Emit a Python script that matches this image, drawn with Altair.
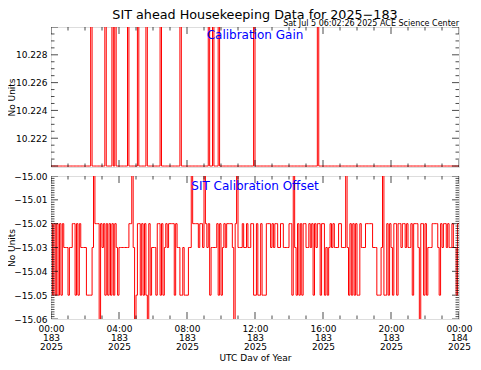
import json
import altair as alt
import pandas as pd

# ---------------- text ----------------
TITLE = "SIT ahead Housekeeping Data for 2025\u2212183"
STAMP = "Sat Jul  5 06:02:26 2025 ACE Science Center"
PANEL1_LABEL = "Calibration Gain"
PANEL2_LABEL = "SIT Calibration Offset"
Y_TITLE = "No Units"
X_TITLE = "UTC Day of Year"

# ---------------- x axis ticks / labels ----------------
X_TICK_HOURS = [0, 4, 8, 12, 16, 20, 24]
X_TICK_TIME = ["00:00", "04:00", "08:00", "12:00", "16:00", "20:00", "00:00"]
X_TICK_DOY = ["183", "183", "183", "183", "183", "183", "184"]
X_TICK_YEAR = ["2025", "2025", "2025", "2025", "2025", "2025", "2025"]

# ---------------- data (5-minute samples, minutes of day) ----------------
SAMPLE_MINUTES = list(range(0, 1441, 5))

GAIN_BASE = 10.2200
GAIN_SPIKE = 10.2310
GAIN_SPIKE_MIN = [140, 190, 215, 225, 270, 305, 335, 385, 455, 555, 570, 590, 715, 940]

OFF_BASE = -15.03
OFF_UP = -15.02
OFF_DOWN = -15.05
OFF_HIGH = -14.99
OFF_LOW = -15.07
OFF_UP_MIN = [0, 10, 20, 30, 40, 75, 80, 90, 100, 155, 160, 165, 175, 185, 195, 205,
              215, 225, 275, 280, 305, 310, 320, 330, 345, 375, 380, 390, 405, 415,
              420, 425, 430, 440, 500, 505, 510, 515, 525, 530, 545, 555, 585, 595,
              610, 620, 625, 630, 635, 650, 675, 690, 705, 710, 725, 740, 760, 765,
              770, 780, 790, 795, 810, 815, 840, 845, 870, 880, 890, 895, 910, 920,
              930, 940, 945, 955, 960, 985, 995, 1015, 1020, 1055, 1065, 1075, 1090,
              1110, 1115, 1120, 1125, 1130, 1185, 1195, 1210, 1215, 1225, 1230, 1240,
              1245, 1255, 1270, 1280, 1285, 1290, 1305, 1310, 1320, 1345, 1350, 1355,
              1360, 1375, 1385, 1390, 1400, 1415, 1435, 1440]
OFF_DOWN_MIN = [5, 15, 25, 35, 60, 85, 95, 125, 130, 135, 140, 190, 200, 210, 220, 235,
                300, 315, 325, 335, 350, 370, 385, 395, 435, 455, 460, 470, 475, 480,
                560, 590, 600, 715, 720, 730, 735, 745, 750, 755, 850, 865, 875, 885,
                925, 950, 965, 975, 1050, 1060, 1070, 1080, 1085, 1150, 1155, 1160,
                1175, 1180, 1190, 1205, 1220, 1275, 1315, 1325, 1370, 1430]
OFF_HIGH_MIN = [150, 285, 495, 540, 655, 855, 1040, 1170]
OFF_LOW_MIN = [170, 295, 340, 645, 1300]

# ---------------- axis ranges / ticks ----------------
GAIN_DOMAIN = [10.21993, 10.2300]
GAIN_LABELS = [10.222, 10.224, 10.226, 10.228]
GAIN_MAJOR = [10.220, 10.222, 10.224, 10.226, 10.228, 10.230]
GAIN_MINOR = [round(10.2200 + 0.0005 * i, 4) for i in range(21)]

OFF_DOMAIN = [-15.06, -15.00]
OFF_LABELS = [-15.00, -15.01, -15.02, -15.03, -15.04, -15.05, -15.06]
OFF_MINOR = [round(-15.06 + 0.001 * i, 3) for i in range(61)]

X_MINOR = list(range(0, 25))

W = 408
H1 = 140
H2 = 143
FONT = "DejaVu Sans"
MAJOR_LEN = 14  # tick centred on the frame edge, half is clipped away
MINOR_LEN = 7


def build_series(base, sets):
    vals = [base] * len(SAMPLE_MINUTES)
    for minutes, v in sets:
        for m in minutes:
            vals[m // 5] = v
    return pd.DataFrame({"hour": [m / 60 for m in SAMPLE_MINUTES], "value": vals})


gain_df = build_series(GAIN_BASE, [(GAIN_SPIKE_MIN, GAIN_SPIKE)])
off_df = build_series(OFF_BASE, [(OFF_UP_MIN, OFF_UP), (OFF_DOWN_MIN, OFF_DOWN),
                                 (OFF_HIGH_MIN, OFF_HIGH), (OFF_LOW_MIN, OFF_LOW)])


def tick_df(major, minor):
    rows = [{"hour": v, "value": v, "len": MINOR_LEN} for v in minor
            if not any(abs(v - m) < 1e-9 for m in major)]
    rows += [{"hour": v, "value": v, "len": MAJOR_LEN} for v in major]
    return pd.DataFrame(rows)


x_scale = alt.Scale(domain=[0, 24], nice=False, zero=False)
x_ticks = tick_df(X_TICK_HOURS, X_MINOR)

label_expr = ("[{t}[indexof({h}, datum.value)], {d}[indexof({h}, datum.value)], "
              "{y}[indexof({h}, datum.value)]]").format(
    t=json.dumps(X_TICK_TIME), d=json.dumps(X_TICK_DOY), y=json.dumps(X_TICK_YEAR),
    h=json.dumps(X_TICK_HOURS))


def panel(df, domain, labels, fmt, ytick, label_text, label_y, height, bottom_axis, extra=None):
    y_scale = alt.Scale(domain=domain, nice=False, zero=False)
    if bottom_axis:
        x_axis = alt.Axis(values=X_TICK_HOURS, labelExpr=label_expr, labelFont=FONT, labelFontSize=9,
                          labelColor="black", labelLineHeight=9, labelBaseline="top", labelPadding=5,
                          labelFlush=False, labelOverlap=False, labelBound=False,
                          ticks=False, domain=False, grid=False, title=X_TITLE, titleFont=FONT,
                          titleFontSize=9, titleFontWeight="normal", titleColor="black", titlePadding=2)
    else:
        x_axis = None
    y_axis = alt.Axis(values=labels, format=fmt, labelFont=FONT, labelFontSize=9, labelColor="black",
                      labelPadding=4, ticks=False, domain=False, grid=False, title=Y_TITLE, titleFont=FONT,
                      titleFontSize=9, titleFontWeight="normal", titleColor="black", titleX=-35,
                      titleY=height / 2, labelFlush=False, labelOverlap=False)
    line = alt.Chart(df).mark_line(color="#ff0000", strokeWidth=1, clip=True,
                                   interpolate="step-after").encode(
        x=alt.X("hour:Q", scale=x_scale, axis=x_axis, title=X_TITLE),
        y=alt.Y("value:Q", scale=y_scale, axis=y_axis, title=Y_TITLE),
    )
    layers = [line]
    for xpos in (0, W):
        layers.append(alt.Chart(ytick).mark_tick(orient="horizontal", color="black", thickness=1,
                                                 clip=True).encode(
            y=alt.Y("value:Q", scale=y_scale, axis=y_axis, title=Y_TITLE),
            x=alt.value(xpos),
            size=alt.Size("len:Q", scale=None, legend=None),
        ))
    for ypos in (0, height):
        layers.append(alt.Chart(x_ticks).mark_tick(orient="vertical", color="black", thickness=1,
                                                   clip=True).encode(
            x=alt.X("hour:Q", scale=x_scale, axis=x_axis, title=X_TITLE),
            y=alt.value(ypos),
            size=alt.Size("len:Q", scale=None, legend=None),
        ))
    layers.append(alt.Chart(pd.DataFrame({"t": [label_text]})).mark_text(
        color="#0000ff", font=FONT, fontSize=12, baseline="middle", align="center").encode(
        text="t:N", x=alt.value(W / 2), y=alt.value(label_y)))
    if extra:
        layers += extra
    return alt.layer(*layers).properties(width=W, height=height)


title_layers = [
    alt.Chart(pd.DataFrame({"t": [TITLE]})).mark_text(
        color="black", font=FONT, fontSize=12.75, baseline="top", align="center").encode(
        text="t:N", x=alt.value(W / 2), y=alt.value(-18.5)),
    alt.Chart(pd.DataFrame({"t": [STAMP]})).mark_text(
        color="black", font=FONT, fontSize=8, baseline="alphabetic", align="right").encode(
        text="t:N", x=alt.value(W), y=alt.value(-1)),
]

top = panel(gain_df, GAIN_DOMAIN, GAIN_LABELS, ".3f", tick_df(GAIN_MAJOR, GAIN_MINOR),
            PANEL1_LABEL, 8, H1, False, title_layers)
bottom = panel(off_df, OFF_DOMAIN, OFF_LABELS, ".2f", tick_df(OFF_LABELS, OFF_MINOR),
               PANEL2_LABEL, 10, H2, True)

chart = alt.vconcat(top, bottom, spacing=3).properties(
    padding={"left": -2, "top": 0, "right": 0, "bottom": -2}
).configure_view(stroke="black", strokeWidth=1).configure(background="white")

chart.save("out.html", embed_options={"renderer": "svg", "actions": False})
